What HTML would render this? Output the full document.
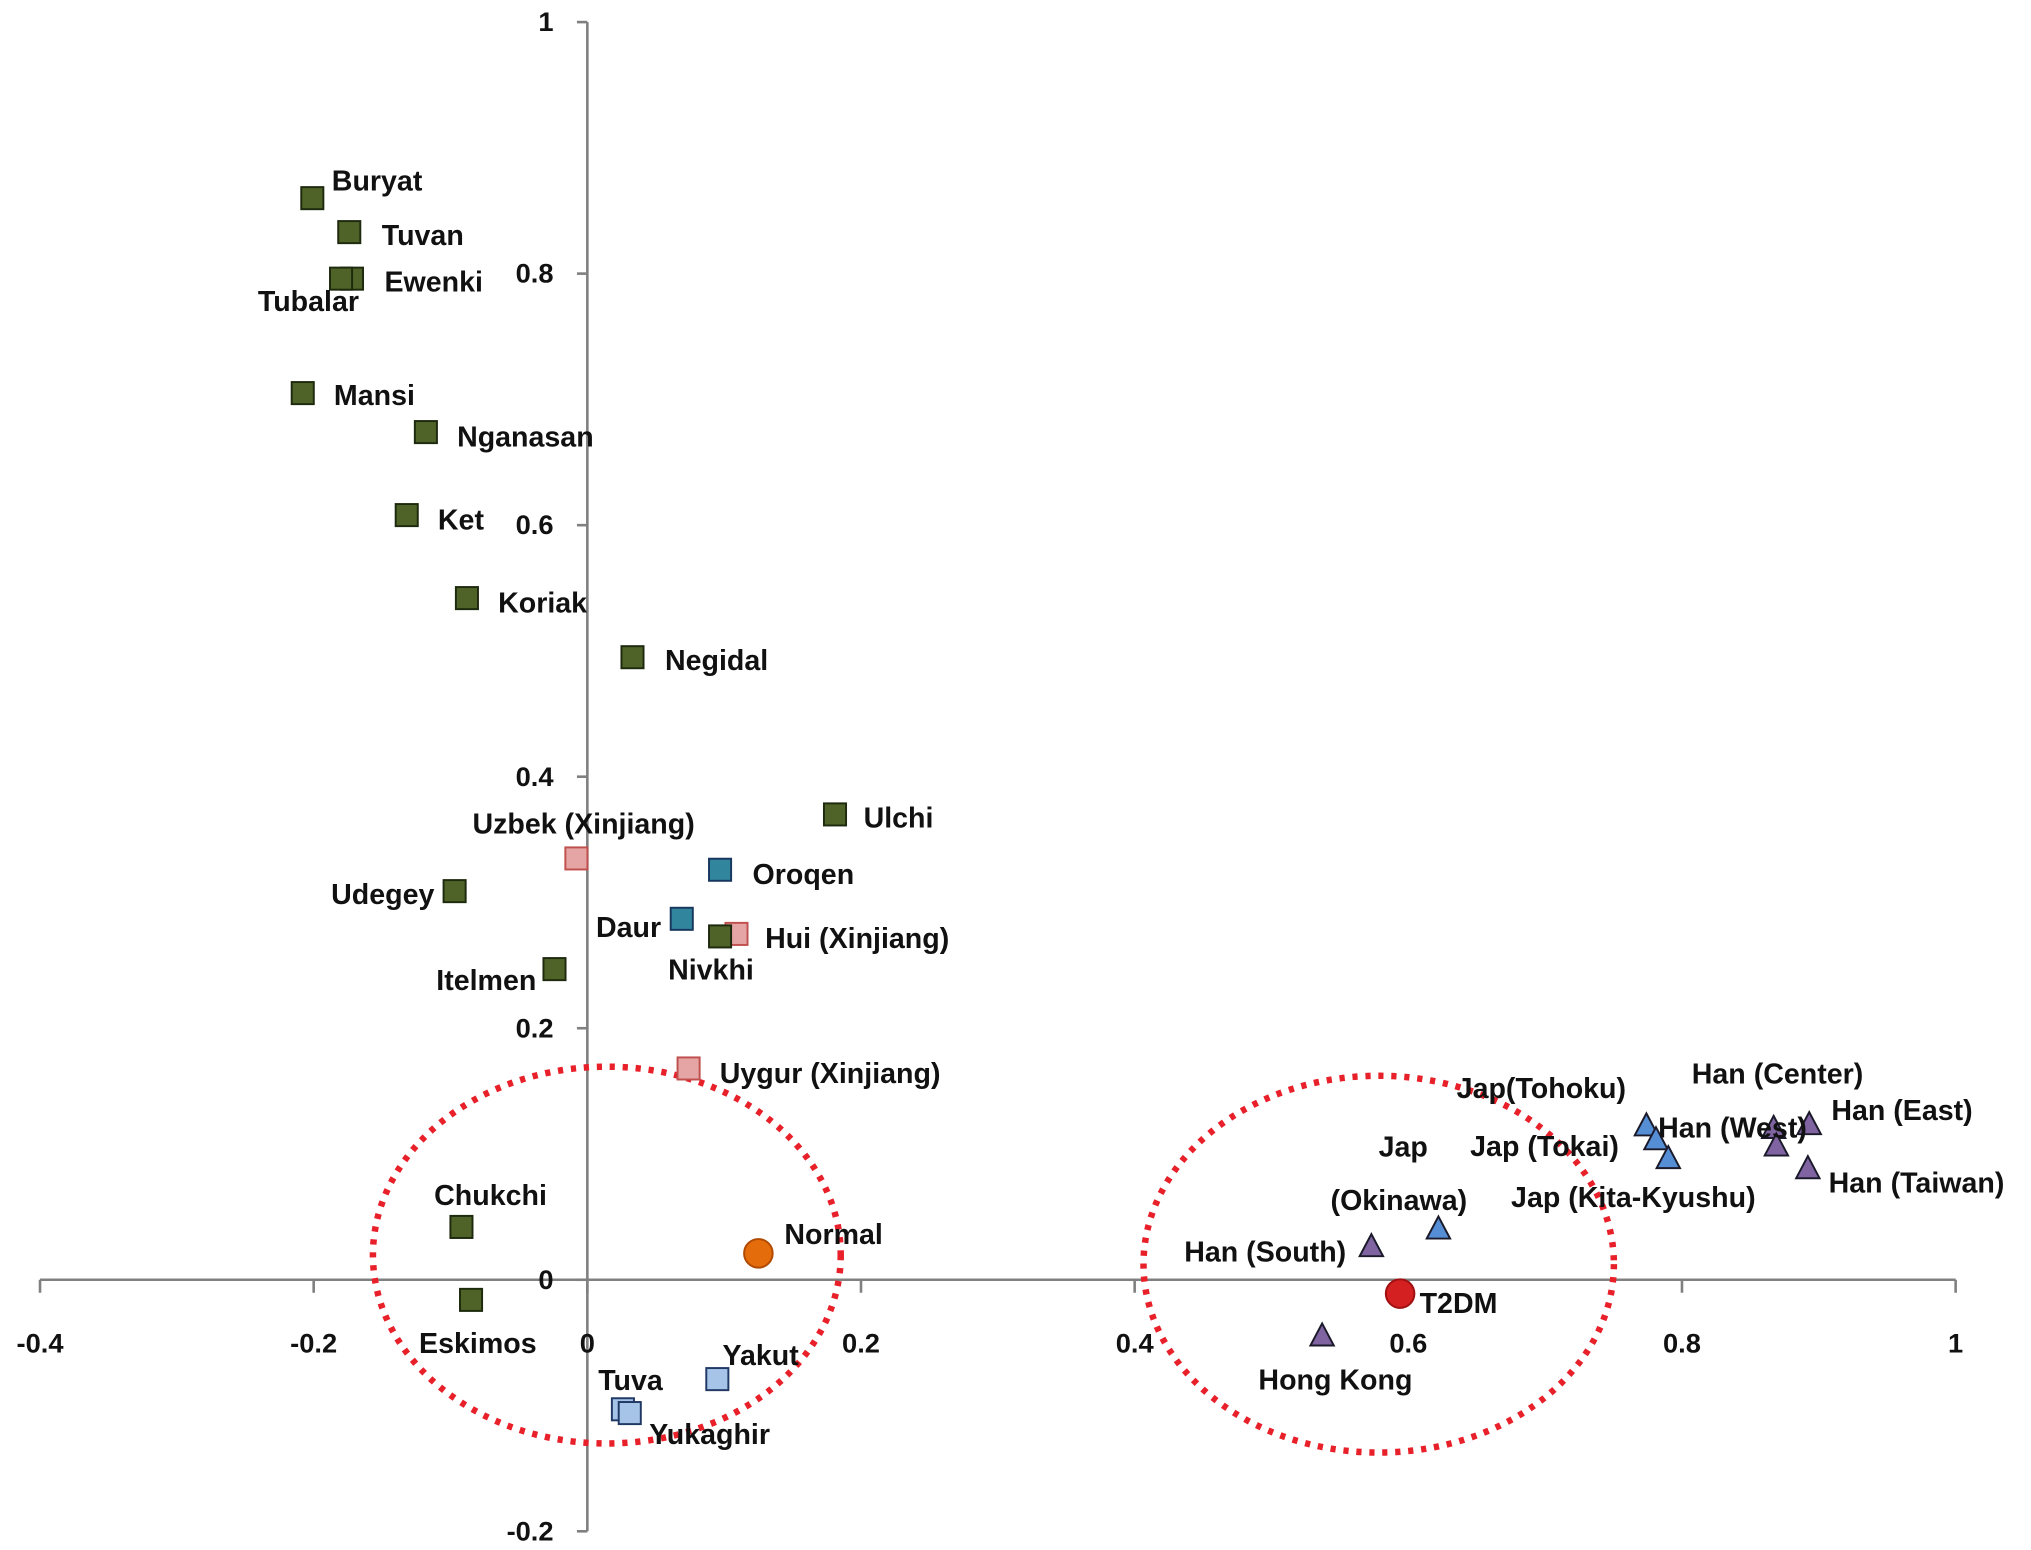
<!DOCTYPE html>
<html><head><meta charset="utf-8"><style>
html,body{margin:0;padding:0;background:#fff;}
svg{display:block;}
text{font-family:"Liberation Sans","DejaVu Sans",sans-serif;font-weight:bold;fill:#111;}
</style></head><body>
<svg id="chart" width="2031" height="1550" viewBox="0 0 1563 1193" preserveAspectRatio="none" xmlns="http://www.w3.org/2000/svg">
<g id="axes"></g>
<g id="ellipses"></g>
<g id="points"></g>
<g id="labels"></g>
</svg>
<script>
const names=["Buryat","Tuvan","Ewenki","Tubalar","Mansi","Nganasan","Ket","Koriak","Negidal","Ulchi","Uzbek (Xinjiang)","Oroqen","Udegey","Daur","Hui (Xinjiang)","Nivkhi","Itelmen","Uygur (Xinjiang)","Chukchi","Eskimos","Normal","Yakut","Tuva","Yukaghir","T2DM","Hong Kong","Han (South)","Jap (Okinawa)","Jap(Tohoku)","Jap (Tokai)","Jap (Kita-Kyushu)","Han (Center)","Han (West)","Han (East)","Han (Taiwan)"];
const xVals=[-0.201,-0.174,-0.172,-0.180,-0.208,-0.118,-0.132,-0.088,0.033,0.181,-0.008,0.097,-0.097,0.069,0.109,0.097,-0.024,0.074,-0.092,-0.085,0.125,0.095,0.026,0.031,0.594,0.537,0.573,0.622,0.774,0.781,0.790,0.867,0.869,0.893,0.892];
const yVals=[0.860,0.833,0.796,0.796,0.705,0.674,0.608,0.542,0.495,0.370,0.335,0.326,0.309,0.287,0.275,0.273,0.247,0.168,0.042,-0.016,0.021,-0.079,-0.103,-0.106,-0.011,-0.044,0.027,0.041,0.123,0.112,0.097,0.121,0.107,0.124,0.089];
const groups=["sib","sib","sib","sib","sib","sib","sib","sib","sib","sib","xin","alt","sib","alt","xin","sib","sib","xin","sib","sib","normal","yak","yak","yak","t2dm","han","han","jap","jap","jap","jap","han","han","han","han"];
const xTicks=[-0.4,-0.2,0,0.2,0.4,0.6,0.8,1];
const yTicks=[-0.2,0,0.2,0.4,0.6,0.8,1];
const xTickLabels=["-0.4","-0.2","0","0.2","0.4","0.6","0.8","1"];
const yTickLabels=["-0.2","0","0.2","0.4","0.6","0.8","1"];
// label offsets (layout, not data)
const labOff=[[15,-6],[25,10],[25,10],[-64,25],[24,9],[24,11],[24,11],[24,11],[25,10],[22,10],[-80,-19],[25,11],[-95,10],[-66,14],[22,11],[-40,33],[-91,16],[24,11],[-21,-17],[-40,41],[20,-7],[4,-11],[-19,-15],[15,24],[15,15],[-49,42],[-144,12],null,[-146,-21],[-143,13],[-121,38],[-63,-34],[-91,-6],[17,-3],[16,19]];
const NS="http://www.w3.org/2000/svg";
function X(v){return 452+v*1053;}
function Y(v){return 985-v*968;}
function mk(tag,attrs,parent){const e=document.createElementNS(NS,tag);for(const k in attrs)e.setAttribute(k,attrs[k]);parent.appendChild(e);return e;}
const axes=document.getElementById('axes');
let l=mk('line',{x1:X(-0.4),y1:Y(0),x2:X(1),y2:Y(0),stroke:'#808080','stroke-width':2},axes);


l=mk('line',{x1:X(0),y1:Y(1),x2:X(0),y2:Y(-0.2),stroke:'#808080','stroke-width':2},axes);


xTicks.forEach((t,i)=>{
  const tk=mk('line',{x1:X(t),y1:Y(0),x2:X(t),y2:Y(0)+10,stroke:'#808080','stroke-width':2},axes);
  
  
  const tx=mk('text',{x:X(t),y:1041,'text-anchor':'middle','font-size':21},axes);
  tx.textContent=xTickLabels[i];
  
  
});
yTicks.forEach((t,i)=>{
  const tk=mk('line',{x1:X(0)-8,y1:Y(t),x2:X(0),y2:Y(t),stroke:'#808080','stroke-width':2},axes);
  
  
  const tx=mk('text',{x:426,y:Y(t)+7,'text-anchor':'end','font-size':21},axes);
  tx.textContent=yTickLabels[i];
  
  
});
const el=document.getElementById('ellipses');
let e1=mk('ellipse',{cx:467,cy:966,rx:180,ry:145,fill:'none',stroke:'#e8202a','stroke-width':5,'stroke-dasharray':'4 6','stroke-linecap':'butt'},el);


let e2=mk('ellipse',{cx:1061,cy:973,rx:181,ry:145,fill:'none',stroke:'#e8202a','stroke-width':5,'stroke-dasharray':'4 6'},el);


const style={sib:['#4f6228','#1e2a0e'],xin:['#e6a5a5','#c0504d'],alt:['#31859c','#17375e'],yak:['#a6c4e8','#1f3864'],jap:['#558ed5','#17375e'],han:['#8064a2','#3f3151'],normal:['#e46c0a','#b04a00'],t2dm:['#d42020','#a01010']};
const pts=document.getElementById('points'),labs=document.getElementById('labels');
names.forEach((n,i)=>{
  const g=groups[i],px=X(xVals[i]),py=Y(yVals[i]),[f,s]=style[g];
  let m;
  if(g==='normal'||g==='t2dm'){m=mk('circle',{cx:px,cy:py,r:11,fill:f,stroke:s,'stroke-width':1.5},pts);}
  else if(g==='jap'||g==='han'){m=mk('polygon',{points:`${px},${py-9} ${px+9},${py+8} ${px-9},${py+8}`,fill:f,stroke:'#1a1a2a','stroke-width':1.5},pts);}
  else{m=mk('rect',{x:px-8.5,y:py-8.5,width:17,height:17,fill:f,stroke:s,'stroke-width':1.5},pts);}
  
  
  if(labOff[i]){
    const t=mk('text',{x:px+labOff[i][0],y:py+labOff[i][1],'font-size':22},labs);
    t.textContent=n;
    
    
  } else {
    const t1=mk('text',{x:px-46,y:py-55,'font-size':22},labs);
    t1.textContent='Jap';
    
    
    const t2=mk('text',{x:px-83,y:py-14,'font-size':22},labs);
    t2.textContent='(Okinawa)';
    
    
  }
});
</script>
</body></html>
